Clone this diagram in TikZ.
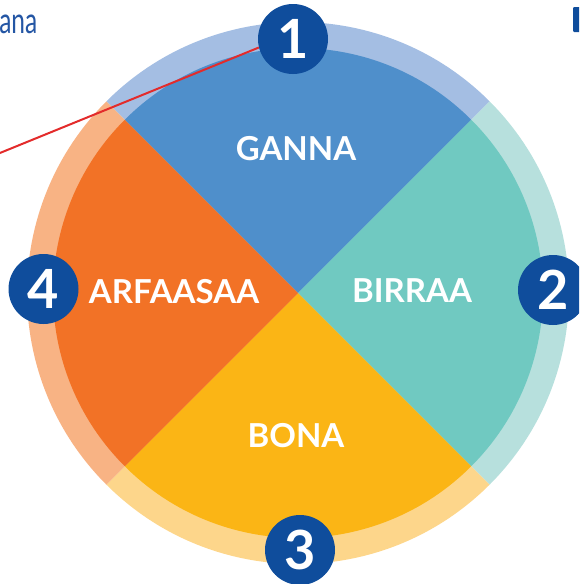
\documentclass[tikz,border=0pt]{standalone}
\usepackage{fontspec}
\setmainfont{Lato}
\definecolor{gannaC}{HTML}{4F8FCB}
\definecolor{gannaR}{HTML}{A4BEE3}
\definecolor{birraaC}{HTML}{70C9C1}
\definecolor{birraaR}{HTML}{B7E0DD}
\definecolor{bonaC}{HTML}{FBB515}
\definecolor{bonaR}{HTML}{FDD68B}
\definecolor{arfC}{HTML}{F27226}
\definecolor{arfR}{HTML}{F8B384}
\definecolor{badgeC}{HTML}{0F4D9C}
\definecolor{lineRed}{HTML}{E32B2B}
\definecolor{anaBlue}{HTML}{2456A4}
\tikzset{
  badge/.style={circle, fill=badgeC, minimum size=70pt, inner sep=0pt, text=white,
    font=\fontsize{54}{54}\selectfont\bfseries},
  seclabel/.style={text=white, inner sep=0pt, font=\fontsize{33}{33}\selectfont\bfseries},
}
\begin{document}
\begin{tikzpicture}[x=1pt,y=-1pt]
\useasboundingbox (0,0) rectangle (579,584);
\clip (0,0) rectangle (579,584);
\coordinate (C) at (298,293);
\def\Rout{271}
\def\Rin{245}
% rings
\fill[gannaR]   (C) -- ++(225:\Rout) arc[start angle=225, end angle=315, radius=\Rout] -- cycle;
\fill[birraaR]  (C) -- ++(-45:\Rout) arc[start angle=-45, end angle=45, radius=\Rout] -- cycle;
\fill[bonaR]    (C) -- ++(45:\Rout) arc[start angle=45, end angle=135, radius=\Rout] -- cycle;
\fill[arfR]     (C) -- ++(135:\Rout) arc[start angle=135, end angle=225, radius=\Rout] -- cycle;
% sectors
\fill[gannaC]   (C) -- ++(225:\Rin) arc[start angle=225, end angle=315, radius=\Rin] -- cycle;
\fill[birraaC]  (C) -- ++(-45:\Rin) arc[start angle=-45, end angle=45, radius=\Rin] -- cycle;
\fill[bonaC]    (C) -- ++(45:\Rin) arc[start angle=45, end angle=135, radius=\Rin] -- cycle;
\fill[arfC]     (C) -- ++(135:\Rin) arc[start angle=135, end angle=225, radius=\Rin] -- cycle;
% labels
\node[seclabel] (lganna) at (296,149) {GANNA};
\node[seclabel] (lbirraa) at (412,291) {BIRRAA};
\node[seclabel] (lbona) at (296,436) {BONA};
\node[seclabel] (larf) at (174,291.5) {ARFAASAA};
% badges
\node[badge] (b1) at (293,39) {1};
\node[badge] (b2) at (553,290) {2};
\node[badge] (b3) at (300,550) {3};
\node[badge] (b4) at (43.5,289) {4};
% red line
\coordinate (redstart) at (-5,155);
\draw[lineRed, line width=2pt] (redstart) -- (b1.194);
% cut-off text fragments
\node[anchor=base east, inner sep=0pt, text=anaBlue, font=\fontsize{36}{36}\selectfont] (ana) at (37.5,33) {\scalebox{0.68}[1]{ana}};
\fill[badgeC, rounded corners=1pt] (573,7) rectangle (582,32);
\end{tikzpicture}
\end{document}
